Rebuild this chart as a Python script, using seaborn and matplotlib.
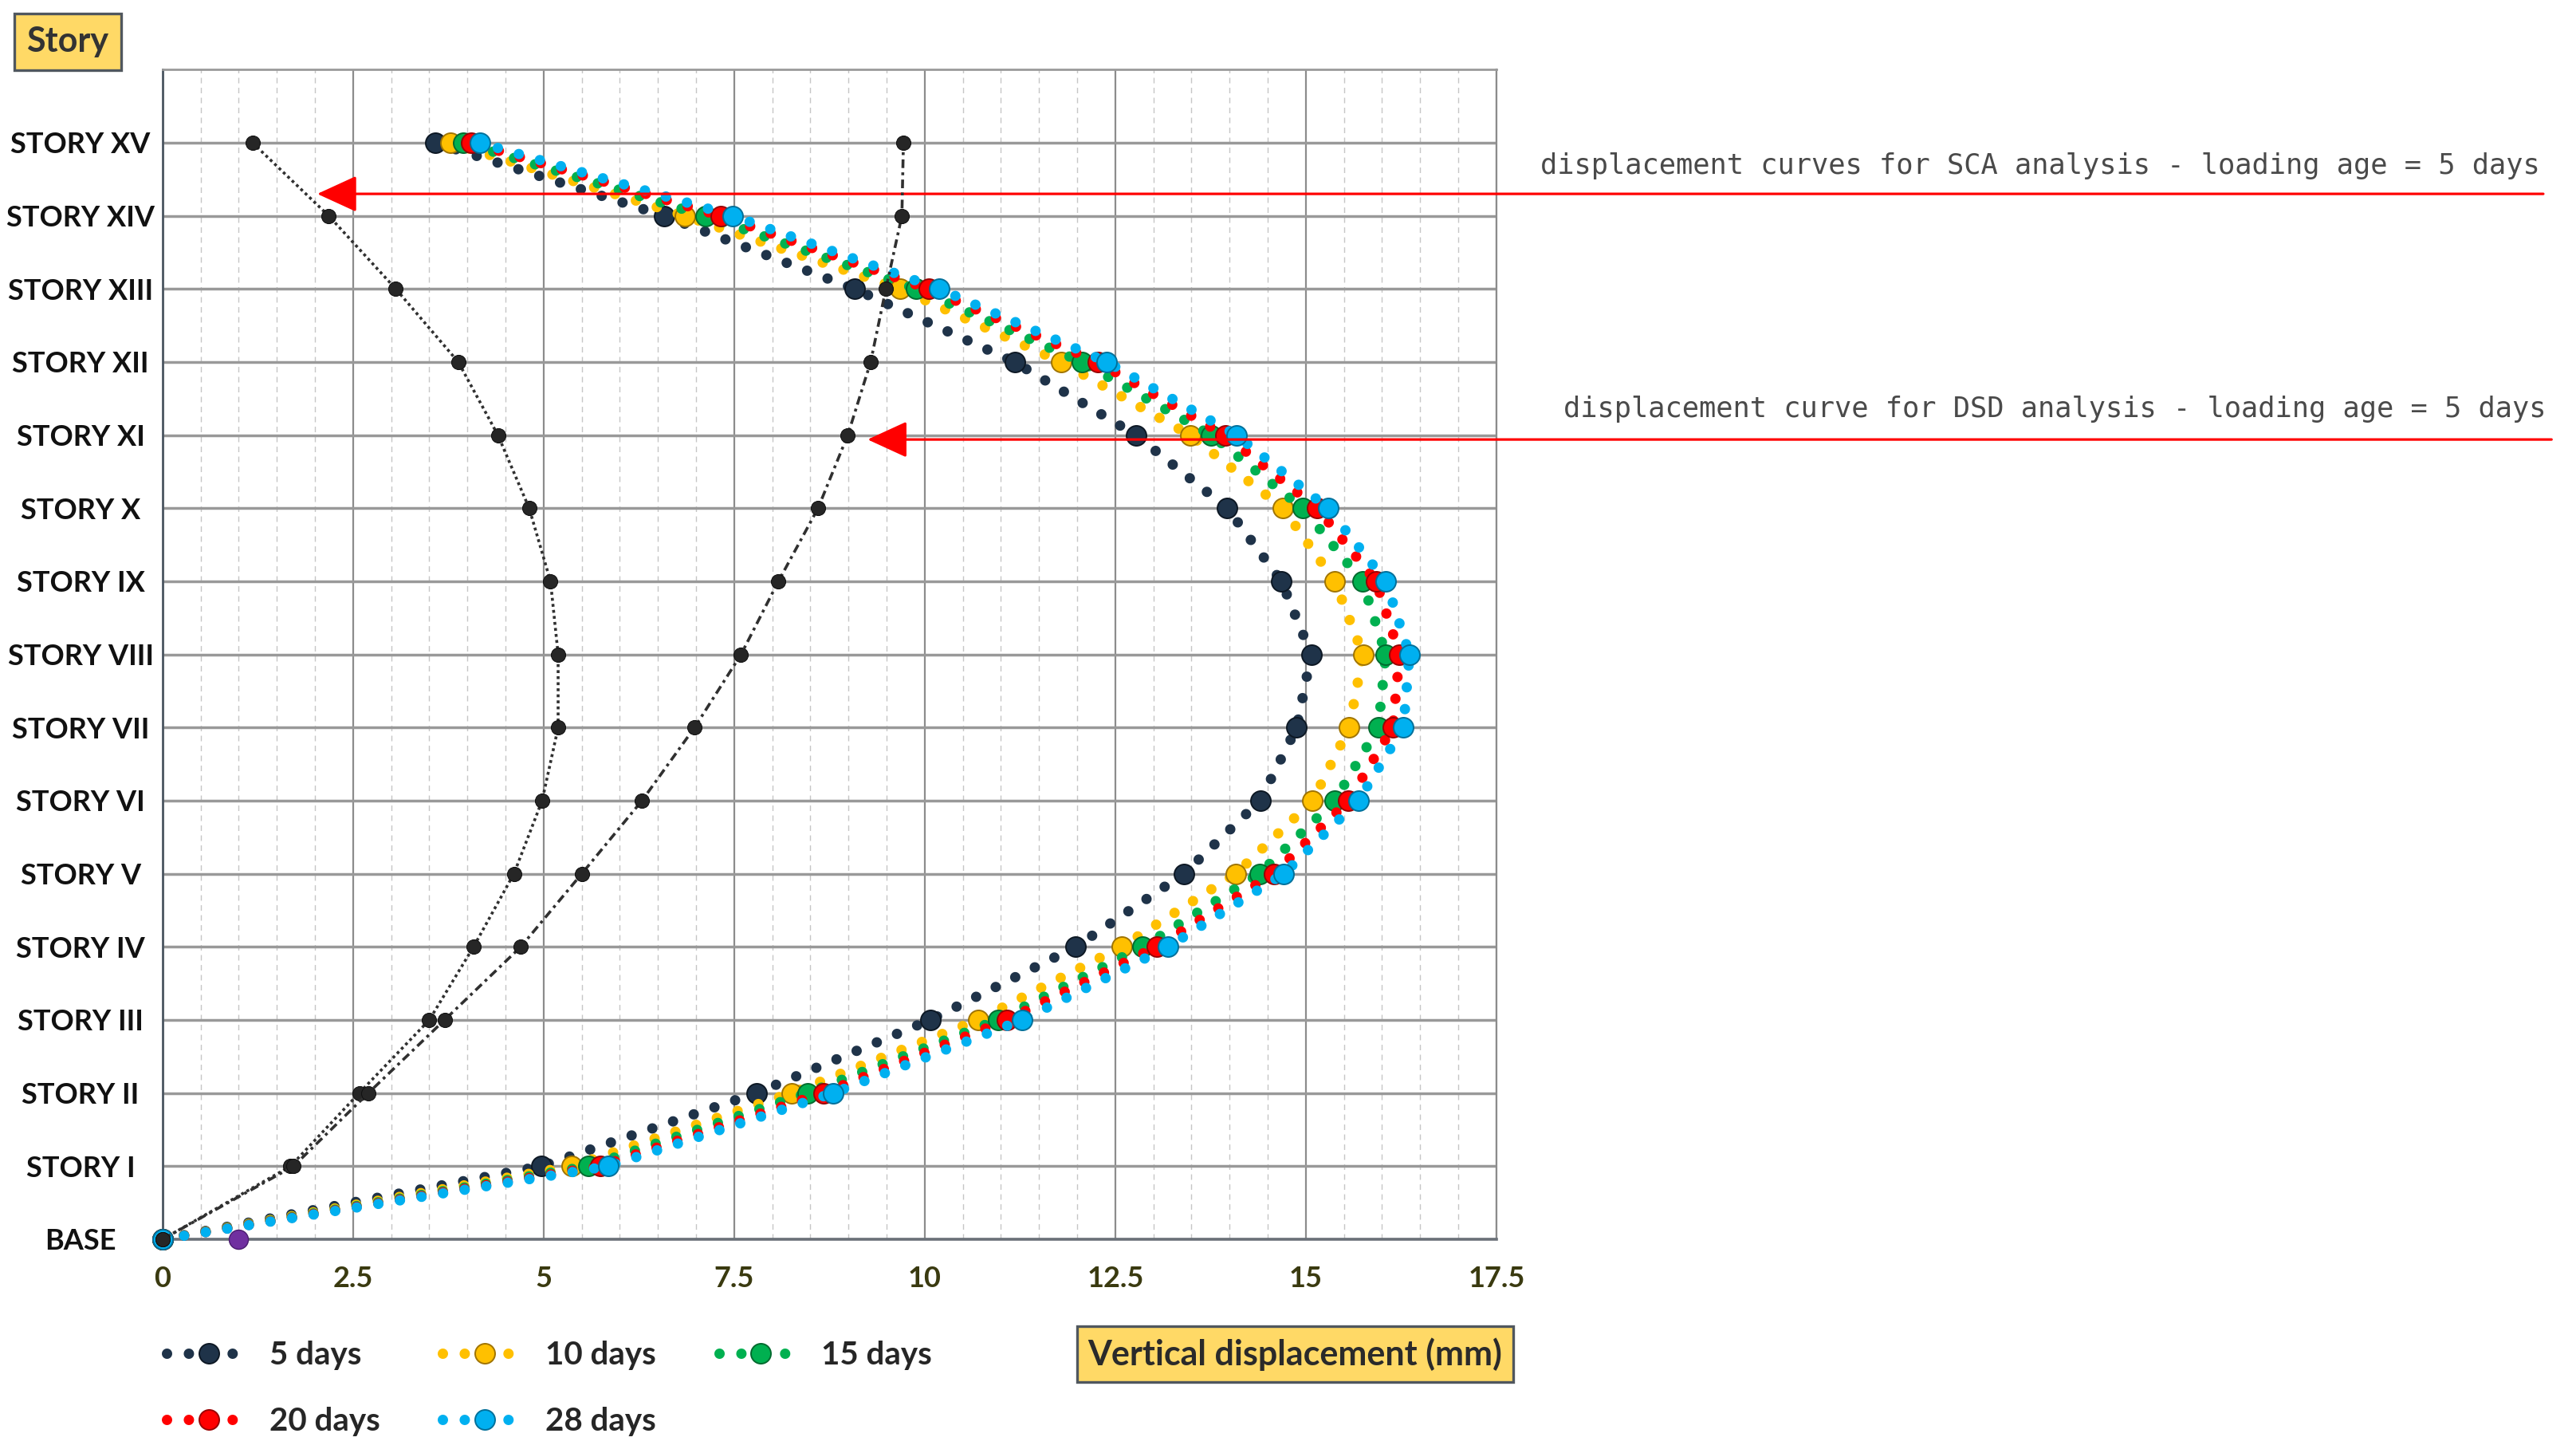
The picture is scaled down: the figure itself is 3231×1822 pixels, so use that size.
import numpy as np
import pandas as pd
import matplotlib
matplotlib.use('Agg')
import matplotlib.pyplot as plt
import seaborn as sns

# story levels (BASE = 0 ... STORY XV = 15)
stories = ['BASE', 'STORY I', 'STORY II', 'STORY III', 'STORY IV', 'STORY V', 'STORY VI',
           'STORY VII', 'STORY VIII', 'STORY IX', 'STORY X', 'STORY XI', 'STORY XII',
           'STORY XIII', 'STORY XIV', 'STORY XV']
levels = list(range(16))

# vertical displacement (mm) per story
days_5 = [0, 4.97, 7.79, 10.07, 11.98, 13.40, 14.40, 14.88, 15.07, 14.68, 13.97, 12.77, 11.18, 9.08, 6.58, 3.58]
days_10 = [0, 5.37, 8.25, 10.70, 12.58, 14.08, 15.09, 15.57, 15.75, 15.38, 14.70, 13.48, 11.79, 9.68, 6.85, 3.78]
days_15 = [0, 5.59, 8.46, 10.96, 12.86, 14.39, 15.38, 15.95, 16.05, 15.74, 14.96, 13.76, 12.06, 9.89, 7.12, 3.95]
days_20 = [0, 5.74, 8.67, 11.08, 13.04, 14.58, 15.56, 16.14, 16.23, 15.92, 15.15, 13.94, 12.27, 10.05, 7.32, 4.05]
days_28 = [0, 5.85, 8.80, 11.28, 13.19, 14.71, 15.69, 16.28, 16.36, 16.05, 15.29, 14.09, 12.39, 10.19, 7.48, 4.16]

sca_curve = [0, 1.68, 2.58, 3.50, 4.08, 4.61, 4.98, 5.19, 5.19, 5.09, 4.81, 4.40, 3.88, 3.06, 2.18, 1.18]
dsd_curve = [0, 1.72, 2.70, 3.70, 4.70, 5.50, 6.29, 6.98, 7.59, 8.08, 8.60, 8.99, 9.29, 9.49, 9.70, 9.72]

extra_x = [1.0]
extra_y = [0]

x_ticks = [0, 2.5, 5, 7.5, 10, 12.5, 15, 17.5]
x_tick_labels = ['0', '2.5', '5', '7.5', '10', '12.5', '15', '17.5']

series = [
    ('5 days', days_5, '#1f3349', '#0d1824'),
    ('10 days', days_10, '#ffc000', '#a07400'),
    ('15 days', days_15, '#00b050', '#006a2e'),
    ('20 days', days_20, '#ff0000', '#990000'),
    ('28 days', days_28, '#00b0f0', '#00709a'),
]

sns.set_style('white')
plt.rcParams['font.family'] = ['Lato', 'DejaVu Sans']

fig = plt.figure(figsize=(32.31, 18.22), dpi=100)
ax = fig.add_axes([0.0631, 0.1471, 0.5178, 0.805])

for name, vals, col, edge in series:
    df = pd.DataFrame({'disp': vals, 'level': levels})
    sns.lineplot(data=df, x='disp', y='level', sort=False, estimator=None, ax=ax,
                 color=col, label=name, linewidth=9.4, linestyle=(0, (0.001, 2.1)),
                 dash_capstyle='round', marker='o', markersize=18, markerfacecolor=col,
                 markeredgecolor=edge, markeredgewidth=1.4, clip_on=False, zorder=3)

sns.lineplot(x=sca_curve, y=levels, sort=False, estimator=None, ax=ax, color='#303030',
             linewidth=2.6, linestyle=(0, (1, 1.1)), marker='o', markersize=13,
             markerfacecolor='#262626', markeredgecolor='#111111', clip_on=False, zorder=4)
sns.lineplot(x=dsd_curve, y=levels, sort=False, estimator=None, ax=ax, color='#303030',
             linewidth=2.6, linestyle=(0, (3, 1.5, 1, 1.5)), marker='o', markersize=13,
             markerfacecolor='#262626', markeredgecolor='#111111', clip_on=False, zorder=4)
sns.scatterplot(x=extra_x, y=extra_y, ax=ax, color='#7030a0', s=300, edgecolor='#4a1d6e',
                linewidth=1, clip_on=False, zorder=5)

handles, labels = ax.get_legend_handles_labels()
if ax.get_legend() is not None:
    ax.get_legend().remove()

ax.set_xlim(0, 17.5)
ax.set_ylim(0, 16)
ax.set_xticks(x_ticks)
ax.set_xticklabels(x_tick_labels)
ax.set_xticks(np.arange(0, 17.6, 0.5), minor=True)
ax.set_yticks(levels)
ax.set_yticklabels(stories)
ax.set_xlabel('')
ax.set_ylabel('')

ax.grid(which='major', axis='x', color='#8c8c8c', linewidth=1.6, zorder=0)
ax.grid(which='minor', axis='x', color='#c6c6c6', linewidth=1.0, linestyle=(0, (5, 4)), zorder=0)
ax.grid(which='major', axis='y', color='#999999', linewidth=2.5, zorder=0)
ax.set_axisbelow(True)

ax.tick_params(axis='x', which='both', length=0, pad=24, labelsize=26, labelcolor='#3a3a10')
ax.tick_params(axis='y', which='both', length=0, pad=74, labelsize=26, labelcolor='#111111')
for lab in ax.get_xticklabels():
    lab.set_fontweight('bold')
for lab in ax.get_yticklabels():
    lab.set_fontweight('bold')
    lab.set_horizontalalignment('center')

for side, c, w in [('left', '#4a5560', 2.0), ('bottom', '#6a7078', 2.6),
                   ('top', '#9a9a9a', 2.0), ('right', '#8c8c8c', 1.6)]:
    ax.spines[side].set_visible(True)
    ax.spines[side].set_color(c)
    ax.spines[side].set_linewidth(w)

# boxed axis titles
box = dict(boxstyle='square,pad=0.35', facecolor='#ffd966', edgecolor='#50575e', linewidth=2.4)
fig.text(0.0263, 0.9712, 'Story', fontsize=31, fontweight='bold', color='#333333',
         ha='center', va='center', bbox=box)
fig.text(0.5028, 0.0681, 'Vertical displacement (mm)', fontsize=31, fontweight='bold',
         color='#2a2a2a', ha='center', va='center',
         bbox=dict(boxstyle='square,pad=0.32', facecolor='#ffd966', edgecolor='#50575e', linewidth=2.4))

# legend, row-wise order
order = [0, 3, 1, 4, 2]
fig.legend([handles[i] for i in order], [labels[i] for i in order], ncol=3,
           loc='upper left', bbox_to_anchor=(0.0585, 0.0884), frameon=False,
           prop={'weight': 'bold', 'size': 29}, handlelength=2.6, handletextpad=0.6,
           columnspacing=1.95, labelspacing=1.14, numpoints=1, borderpad=0)

# red arrows with notes
arrow = dict(arrowstyle='-|>,head_length=1.2,head_width=0.55', color='#ff0000', lw=2.3,
             shrinkA=0, shrinkB=0, mutation_scale=26)
ax.annotate('', xy=(2.03, 14.30), xycoords='data', xytext=(0.9873, 14.30),
            textcoords=('figure fraction', 'data'), arrowprops=arrow, annotation_clip=False)
ax.annotate('', xy=(9.25, 10.94), xycoords='data', xytext=(0.9905, 10.94),
            textcoords=('figure fraction', 'data'), arrowprops=arrow, annotation_clip=False)
fig.text(0.986, 0.886, 'displacement curves for SCA analysis - loading age = 5 days',
         family=['DejaVu Sans Mono'], fontsize=25.5, color='#4a4a4a', ha='right', va='center')
fig.text(0.9885, 0.7184, 'displacement curve for DSD analysis - loading age = 5 days',
         family=['DejaVu Sans Mono'], fontsize=25.5, color='#4a4a4a', ha='right', va='center')

fig.savefig('out.png', dpi=100)
